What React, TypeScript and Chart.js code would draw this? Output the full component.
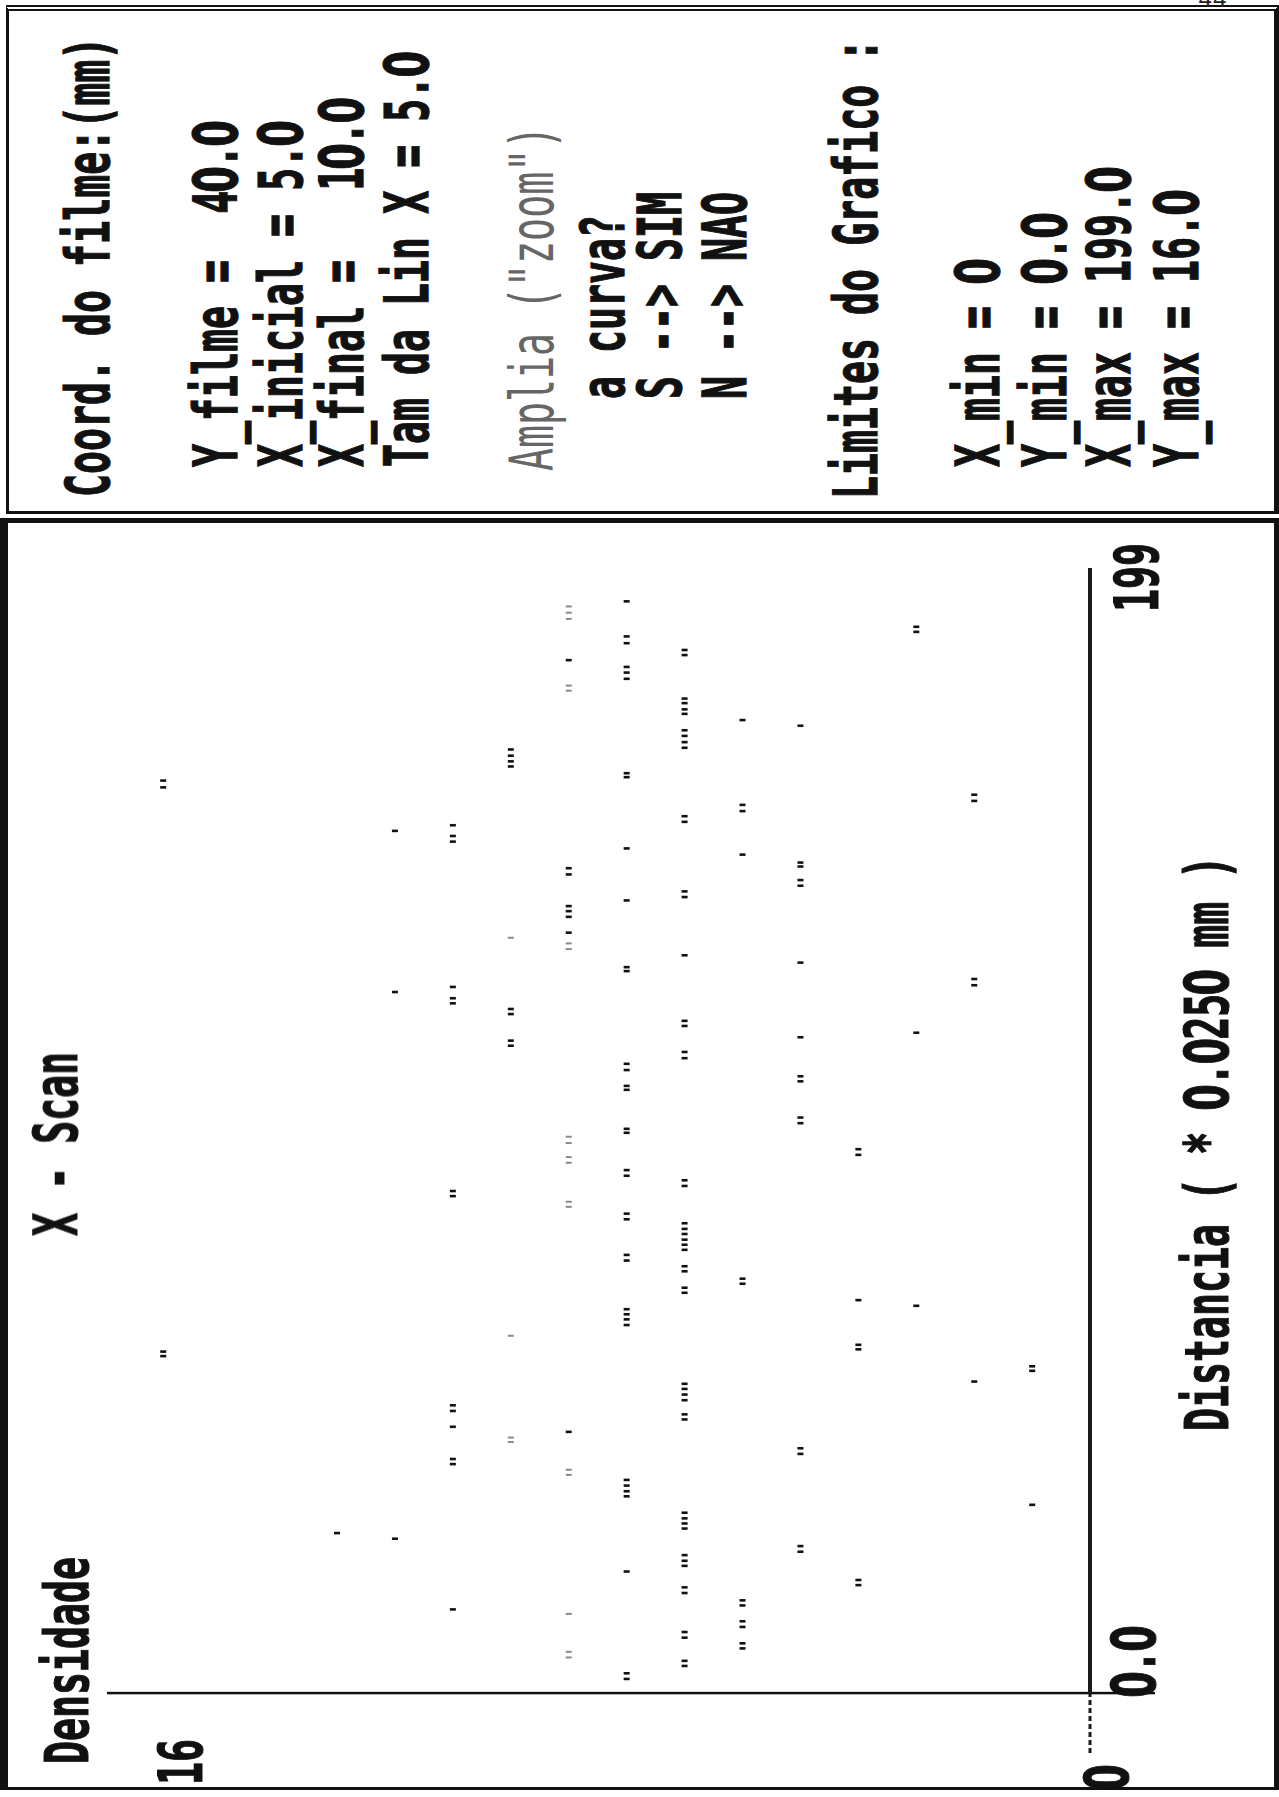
import React, { useEffect, useRef } from "react";
import { Chart, registerables } from "chart.js";

Chart.register(...registerables);

// ---- data: X-scan (distance sample index, density level) ----
const distancias = [
  2.5, 3.5, 4.8, 5.7, 7.9, 8.8, 9.8, 10.8, 11.7, 12.7,
  14.8, 15.5, 16.4, 17.7, 18.7, 19.1, 20.0, 21.5,
  22.5, 23.4, 24.4, 25.0, 26.0, 27.3, 28.3,
  29.1, 30.0, 30.9, 31.9, 33.3, 34.8, 35.7, 36.7, 37.7,
  40.5, 41.4, 42.3, 43.3, 46.2, 47.1, 48.4, 49.3, 49.9, 50.9,
  51.8, 52.8, 53.8, 54.7, 55.1, 57.0, 57.8, 59.6, 60.4, 60.8, 61.6,
  65.1, 66.1, 67.0, 67.9, 68.5, 69.5, 70.8, 71.7, 72.4, 73.3,
  74.6, 75.5, 76.5, 77.5, 78.4, 79.3, 80.2, 81.2, 82.1, 83.1,
  83.8, 84.8, 87.9, 88.8, 89.7, 90.7, 91.5, 92.5, 95.2, 96.2,
  99.1, 99.8, 100.8, 101.8, 106.7, 107.4, 108.2, 109.1, 110.2, 111.3,
  112.3, 113.4, 114.5, 115.4, 116.0, 116.8, 118.0, 118.9, 120.1, 121.0,
  122.0, 122.9, 124.0, 124.9, 125.2, 126.3, 127.7, 128.4, 129.2, 130.5,
  134.5, 137.3, 138.3, 139.2, 140.2, 140.8, 141.8, 142.8, 143.8,
  144.8, 145.9, 146.2, 146.9, 148.3, 149.4, 150.6, 151.6, 152.5, 153.5,
  154.1, 155.1, 156.0, 157.1, 157.8, 158.9, 160.2, 161.4, 162.0, 162.7,
  163.9, 164.8, 165.8, 166.9, 167.2, 168.2, 169.3, 170.3, 171.1, 172.1,
  173.2, 174.0, 175.1, 175.9, 179.4, 180.5, 181.5, 182.7, 183.6, 184.5,
  185.7, 186.9, 187.7, 188.6, 193.1,
];
const densidades = [
  8, 8, 7, 7, 6, 6, 7, 7, 6, 6,
  11, 6, 6, 7, 7, 4, 4, 8,
  7, 7, 7, 5, 5, 12, 13,
  7, 7, 7, 7, 1, 8, 8, 8, 8,
  11, 11, 5, 5, 9, 11, 7, 7, 11, 11,
  7, 7, 7, 7, 2, 1, 1, 16, 16, 4, 4,
  8, 8, 8, 8, 3, 4, 7, 7, 6, 6,
  7, 7, 8, 8, 7, 7, 7, 7, 7, 7,
  8, 8, 11, 11, 7, 7, 8, 8, 4, 4,
  8, 8, 5, 5, 8, 8, 5, 5, 8, 8,
  7, 7, 10, 10, 5, 3, 7, 7, 10, 10,
  11, 11, 12, 11, 2, 2, 8, 8, 5, 7,
  9, 9, 9, 9, 8, 7, 7, 5, 5,
  9, 9, 5, 5, 6, 8, 11, 11, 12, 11,
  7, 7, 6, 6, 2, 2, 16, 16, 8, 8,
  10, 10, 10, 10, 7, 7, 7, 7, 5, 6,
  7, 7, 7, 7, 8, 8, 8, 9, 7, 7,
  8, 8, 3, 3, 8,
];
// lighter (faintly printed) points
const distanciasFracas = [
  6.3, 7.3, 14.0, 38.6, 39.5, 44.4, 45.2, 63.2, 86.0, 86.9, 93.8,
  94.8, 97.3, 98.4, 131.6, 132.6, 133.6, 177.3, 178.2, 190.0, 191.1, 192.2,
];
const densidadesFracas = [
  9, 9, 9, 9, 9, 10, 10, 10, 9, 9, 9,
  9, 9, 9, 9, 9, 10, 9, 9, 9, 9, 9,
];

// ---- text ----
const titulo = "X - Scan";
const rotuloY = "Densidade";
const rotuloX = "Distancia ( * 0.0250 mm )";
const tickYMax = "16";
const tickYMin = "0";
const tickXMin = "0.0";
const tickXMax = "199";

const painel = [
  "Coord. do filme:(mm)",
  "Y_filme =  40.0",
  "X_inicial = 5.0",
  "X_final =   10.0",
  "Tam da Lin X = 5.0",
  'Amplia ("zoom")',
  "a curva?",
  "S --> SIM",
  "N --> NAO",
  "Limites do Grafico :",
  "X_min = 0",
  "Y_min = 0.0",
  "X_max = 199.0",
  "Y_max = 16.0",
];

const FONT = '"DejaVu Sans Mono", "Liberation Mono", monospace';
const FS = 60;
const SX = 0.637;
const BASE = 0.846 * FS;

function Txt(props: { x: number; b: number; text: string; color?: string; weight?: number; stroke?: number }) {
  const { x, b, text, color = "#111", weight = 700, stroke = 1.2 } = props;
  const parts = text.split("").map((ch, i) =>
    ch === "0" ? (
      <span
        key={i}
        style={{ fontFamily: '"DejaVu Sans", sans-serif', marginLeft: "-0.047em", marginRight: "-0.047em" }}
      >
        0
      </span>
    ) : (
      ch
    )
  );
  return (
    <div
      style={{
        position: "absolute",
        left: x,
        top: b - BASE,
        fontFamily: FONT,
        fontSize: FS,
        lineHeight: `${FS}px`,
        fontWeight: weight,
        color,
        whiteSpace: "pre",
        transform: `scaleX(${SX})`,
        transformOrigin: "0 0",
        WebkitTextStroke: stroke > 0 ? `${stroke}px ${color}` : undefined,
      } as any}
    >
      {parts}
    </div>
  );
}

const axesPlugin = {
  id: "dosAxes",
  beforeDatasetsDraw(chart: any) {
    const { ctx, chartArea, scales } = chart;
    const x0 = scales.x.getPixelForValue(0);
    const y0 = scales.y.getPixelForValue(0);
    ctx.save();
    // density axis
    ctx.strokeStyle = "#111";
    ctx.lineWidth = 2.5;
    ctx.beginPath();
    ctx.moveTo(x0, chartArea.top);
    ctx.lineTo(x0, chartArea.bottom);
    ctx.stroke();
    // distance axis (solid from origin to max)
    ctx.lineWidth = 4;
    ctx.strokeStyle = "#1a1a1a";
    ctx.beginPath();
    ctx.moveTo(x0, y0);
    ctx.lineTo(chartArea.right, y0);
    ctx.stroke();
    // broken stub left of the origin
    ctx.lineWidth = 3;
    ctx.setLineDash([5, 3]);
    ctx.beginPath();
    ctx.moveTo(chartArea.left, y0);
    ctx.lineTo(x0, y0);
    ctx.stroke();
    ctx.restore();
  },
};

export default function App() {
  const canvasRef = useRef<HTMLCanvasElement>(null);

  useEffect(() => {
    const pts = distancias.map((d, i) => ({ x: d, y: densidades[i] }));
    const ptsF = distanciasFracas.map((d, i) => ({ x: d, y: densidadesFracas[i] }));
    const chart = new Chart(canvasRef.current as HTMLCanvasElement, {
      type: "scatter",
      data: {
        datasets: [
          {
            label: "Densidade",
            data: pts,
            pointStyle: "line",
            rotation: 90,
            radius: 3,
            borderWidth: 2.6,
            borderColor: "#111",
            backgroundColor: "#111",
          } as any,
          {
            label: "Densidade (fraco)",
            data: ptsF,
            pointStyle: "line",
            rotation: 90,
            radius: 3,
            borderWidth: 2,
            borderColor: "#8a8a8a",
            backgroundColor: "#8a8a8a",
          } as any,
        ],
      },
      options: {
        animation: false,
        responsive: false,
        events: [],
        layout: { padding: { left: 44, right: 41, top: 107, bottom: 115 } },
        plugins: { legend: { display: false }, tooltip: { enabled: false } },
        scales: {
          x: { type: "linear", min: -10.6, max: 199, display: false },
          y: { type: "linear", min: -1.12, max: 16.97, display: false },
        },
      },
      plugins: [axesPlugin],
    });
    return () => chart.destroy();
  }, []);

  const panelY = [109, 237, 302, 363, 428, 553, 624, 681, 746, 877, 999, 1066, 1130, 1198];
  const panelX = [1300, 1330, 1330, 1330, 1330, 1326, 1398, 1398, 1398, 1298, 1330, 1330, 1330, 1330];

  return (
    <div
      style={{
        position: "absolute",
        left: 0,
        top: 0,
        width: 1279,
        height: 1797,
        overflow: "hidden",
        background: "#fff",
      }}
    >
      <div
        style={{
          position: "absolute",
          left: 0,
          top: 0,
          width: 1797,
          height: 1279,
          transformOrigin: "0 0",
          transform: "translateY(1797px) rotate(-90deg)",
        }}
      >
        {/* plot panel frame */}
        <div
          style={{
            position: "absolute",
            left: 7,
            top: 0,
            width: 1272,
            height: 1279,
            boxSizing: "border-box",
            borderTop: "8px solid #111",
            borderLeft: "3px solid #111",
            borderRight: "5px solid #111",
            borderBottom: "5px solid #111",
          }}
        />
        {/* info panel frame */}
        <div
          style={{
            position: "absolute",
            left: 1283,
            top: 6,
            width: 509,
            height: 1273,
            boxSizing: "border-box",
            borderTop: "3px solid #111",
            borderLeft: "3px solid #111",
            borderRight: "6px double #111",
            borderBottom: "5px solid #111",
          }}
        />
        <canvas
          ref={canvasRef}
          width={1270}
          height={1270}
          style={{ position: "absolute", left: 0, top: 0, width: 1270, height: 1270 }}
        />
        <Txt x={33} b={88} text={rotuloY} />
        <Txt x={561} b={77} text={titulo} />
        <Txt x={12} b={202} text={tickYMax} />
        <Txt x={8} b={1128} text={tickYMin} />
        <Txt x={101} b={1155} text={tickXMin} />
        <Txt x={1185} b={1158} text={tickXMax} />
        <Txt x={366} b={1228} text={rotuloX} />
        {painel.map((t, i) => (
          <Txt
            key={i}
            x={panelX[i]}
            b={panelY[i]}
            text={t}
            color={i === 5 ? "#666" : "#111"}
            weight={i === 5 ? 400 : 700}
            stroke={i === 5 ? 0 : 1.2}
          />
        ))}
      </div>
      <div
        style={{
          position: "absolute",
          left: 1198,
          top: -13,
          fontFamily: '"Liberation Mono", monospace',
          fontSize: 24,
          color: "#222",
        }}
      >
        44
      </div>
    </div>
  );
}
